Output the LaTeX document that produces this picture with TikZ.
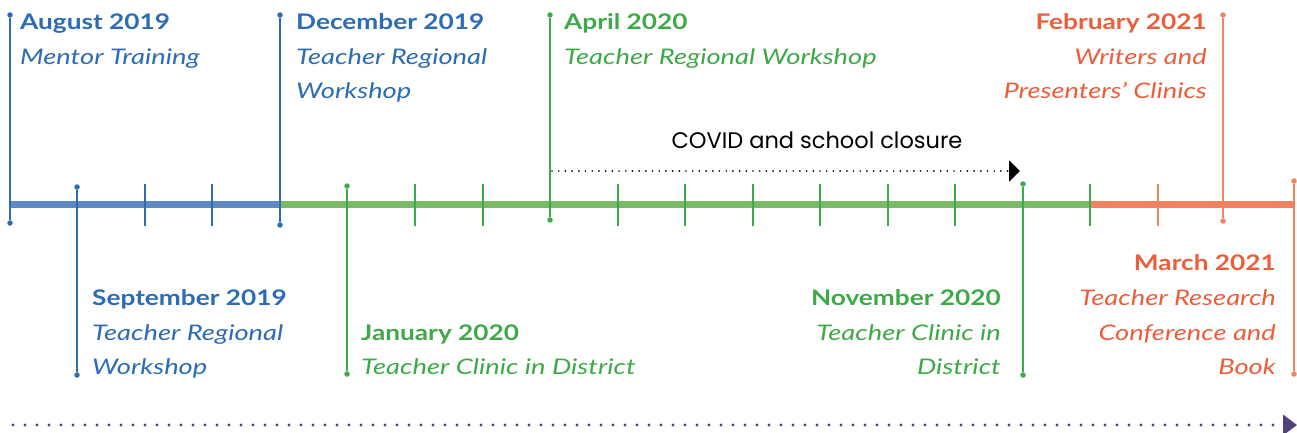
\documentclass[tikz,border=0pt]{standalone}
\usepackage{fontspec}
\setmainfont{Lato}
\newfontfamily\dfont{Lato}[FakeStretch=1.22]
\newfontfamily\ifont{Lato}[FakeStretch=1.27]
\newfontfamily\cfont{Poppins}
\usetikzlibrary{arrows.meta}
\definecolor{tblue}{HTML}{2B6CB5}
\definecolor{bblue}{HTML}{5D89C7}
\definecolor{tgreen}{HTML}{3DAA47}
\definecolor{bgreen}{HTML}{77BC65}
\definecolor{torange}{HTML}{EC5E3A}
\definecolor{borange}{HTML}{F0825F}
\definecolor{tpurple}{HTML}{514179}
\begin{document}
\begin{tikzpicture}[x=1pt,y=-1pt,
  stem/.style={line width=1.3pt},
  bar/.style={line width=7pt},
  dot/.style={circle,fill,inner sep=0pt,minimum size=5.5pt},
  datel/.style={font=\dfont\fontsize{21.5}{25}\selectfont\bfseries,inner sep=0pt},
  descl/.style={font=\ifont\fontsize{21.5}{25}\selectfont\itshape,inner sep=0pt},
  L/.style={anchor=base west},
  R/.style={anchor=base east}]
\useasboundingbox (0,0) rectangle (1297,433);
% coordinates
\coordinate (b0) at (10,204);
\coordinate (b1) at (280,204);
\coordinate (b2) at (1090,204);
\coordinate (b3) at (1294,204);
% bars
\draw[bar,bblue] (b0) -- (b1);
\draw[bar,bgreen] (b1) -- (b2);
\draw[bar,borange] (b2) -- (b3);
% minor ticks
\foreach \x/\c in {145/tblue,212/tblue,415/tgreen,483/tgreen,618/tgreen,685/tgreen,753/tgreen,820/tgreen,888/tgreen,955/tgreen,1090/tgreen,1158/borange}{
  \coordinate (t\x a) at (\x,184);
  \coordinate (t\x b) at (\x,226);
  \draw[stem,\c] (t\x a) -- (t\x b);
}
% event stems
\foreach \n/\x/\ya/\yb/\c in {aug/10/15/223/tblue, sep/77/187/375/tblue, dec/280/15/225/tblue,
  jan/347/186/374/tgreen, apr/550/15/220/tgreen, nov/1023/184/375/tgreen,
  feb/1223/15/221/borange, mar/1294/181/374/borange}{
  \node[dot,\c] (\n top) at (\x,\ya) {};
  \node[dot,\c] (\n bot) at (\x,\yb) {};
  \draw[stem,\c] (\n top) -- (\n bot);
}
% labels
\begin{scope}[tblue]
\node[datel,L] (augd) at (20,30) {August 2019};
\node[descl,L] (aug1) at (20,65) {Mentor Training};
\node[datel,L] (decd) at (296,30) {December 2019};
\node[descl,L] (dec1) at (296,65) {Teacher Regional};
\node[descl,L] (dec2) at (296,99) {Workshop};
\node[datel,L] (sepd) at (92,305) {September 2019};
\node[descl,L] (sep1) at (92,340) {Teacher Regional};
\node[descl,L] (sep2) at (92,374) {Workshop};
\end{scope}
\begin{scope}[tgreen]
\node[datel,L] (aprd) at (564,30) {April 2020};
\node[descl,L] (apr1) at (564,65) {Teacher Regional Workshop};
\node[datel,L] (jand) at (361,340) {January 2020};
\node[descl,L] (jan1) at (361,374) {Teacher Clinic in District};
\node[datel,R] (novd) at (1001,305) {November 2020};
\node[descl,R] (nov1) at (1001,340) {Teacher Clinic in};
\node[descl,R] (nov2) at (1001,374) {District};
\end{scope}
\begin{scope}[torange]
\node[datel,R] (febd) at (1207,30) {February 2021};
\node[descl,R] (feb1) at (1207,65) {Writers and};
\node[descl,R] (feb2) at (1207,99) {Presenters’ Clinics};
\node[datel,R] (mard) at (1276,270) {March 2021};
\node[descl,R] (mar1) at (1276,305) {Teacher Research};
\node[descl,R] (mar2) at (1276,340) {Conference and};
\node[descl,R] (mar3) at (1276,374) {Book};
\end{scope}
% COVID
\node[font=\cfont\fontsize{22.5}{26}\selectfont,anchor=base,inner sep=0pt] (covid) at (817,148) {COVID and school closure};
\coordinate (cva) at (552,171);
\coordinate (cvb) at (1020,171);
\draw[line width=1.9pt,line cap=round,dash pattern=on 0pt off 6.7pt,-{Triangle[length=11pt,width=21pt]}] (cva) -- (cvb);
% bottom arrow
\coordinate (ba) at (13,425);
\coordinate (bb) at (1297,425);
\draw[tpurple,line width=3.3pt,line cap=round,dash pattern=on 0pt off 12pt,-{Triangle[length=14pt,width=20pt]}] (ba) -- (bb);
\end{tikzpicture}
\end{document}
